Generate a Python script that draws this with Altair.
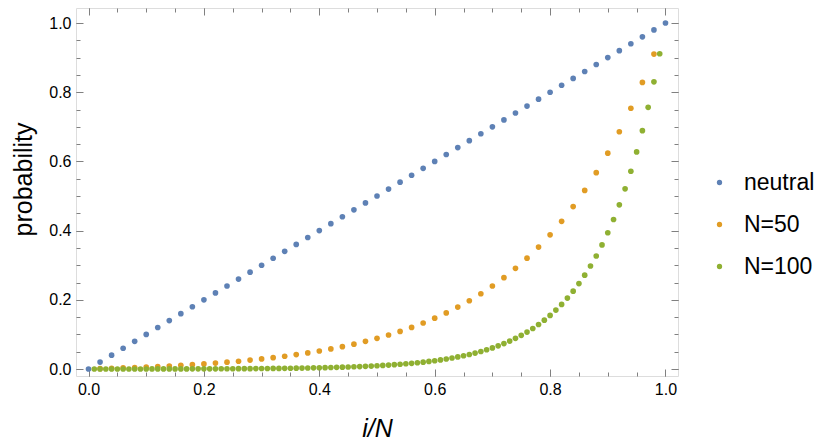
import altair as alt
import pandas as pd

# ---- data ----
neutral_x = [0.00, 0.02, 0.04, 0.06, 0.08, 0.10, 0.12, 0.14, 0.16, 0.18,
             0.20, 0.22, 0.24, 0.26, 0.28, 0.30, 0.32, 0.34, 0.36, 0.38,
             0.40, 0.42, 0.44, 0.46, 0.48, 0.50, 0.52, 0.54, 0.56, 0.58,
             0.60, 0.62, 0.64, 0.66, 0.68, 0.70, 0.72, 0.74, 0.76, 0.78,
             0.80, 0.82, 0.84, 0.86, 0.88, 0.90, 0.92, 0.94, 0.96, 0.98, 1.00]
neutral_y = [0.00, 0.02, 0.04, 0.06, 0.08, 0.10, 0.12, 0.14, 0.16, 0.18,
             0.20, 0.22, 0.24, 0.26, 0.28, 0.30, 0.32, 0.34, 0.36, 0.38,
             0.40, 0.42, 0.44, 0.46, 0.48, 0.50, 0.52, 0.54, 0.56, 0.58,
             0.60, 0.62, 0.64, 0.66, 0.68, 0.70, 0.72, 0.74, 0.76, 0.78,
             0.80, 0.82, 0.84, 0.86, 0.88, 0.90, 0.92, 0.94, 0.96, 0.98, 1.00]

n50_x = [0.02, 0.04, 0.06, 0.08, 0.10, 0.12, 0.14, 0.16, 0.18, 0.20,
         0.22, 0.24, 0.26, 0.28, 0.30, 0.32, 0.34, 0.36, 0.38, 0.40,
         0.42, 0.44, 0.46, 0.48, 0.50, 0.52, 0.54, 0.56, 0.58, 0.60,
         0.62, 0.64, 0.66, 0.68, 0.70, 0.72, 0.74, 0.76, 0.78, 0.80,
         0.82, 0.84, 0.86, 0.88, 0.90, 0.92, 0.94, 0.96, 0.98]
n50_y = [0.0009, 0.0020, 0.0031, 0.0043, 0.0057, 0.0072, 0.0088, 0.0106, 0.0125, 0.0147,
         0.0171, 0.0197, 0.0225, 0.0257, 0.0291, 0.0329, 0.0370, 0.0416, 0.0466, 0.0520,
         0.0581, 0.0647, 0.0719, 0.0799, 0.0886, 0.0982, 0.1087, 0.1203, 0.1330, 0.1469,
         0.1622, 0.1790, 0.1974, 0.2176, 0.2398, 0.2641, 0.2909, 0.3203, 0.3525, 0.3878,
         0.4267, 0.4694, 0.5161, 0.5675, 0.6239, 0.6858, 0.7537, 0.8283, 0.9102]

n100_x = [0.01, 0.02, 0.03, 0.04, 0.05, 0.06, 0.07, 0.08, 0.09, 0.10,
          0.11, 0.12, 0.13, 0.14, 0.15, 0.16, 0.17, 0.18, 0.19, 0.20,
          0.21, 0.22, 0.23, 0.24, 0.25, 0.26, 0.27, 0.28, 0.29, 0.30,
          0.31, 0.32, 0.33, 0.34, 0.35, 0.36, 0.37, 0.38, 0.39, 0.40,
          0.41, 0.42, 0.43, 0.44, 0.45, 0.46, 0.47, 0.48, 0.49, 0.50,
          0.51, 0.52, 0.53, 0.54, 0.55, 0.56, 0.57, 0.58, 0.59, 0.60,
          0.61, 0.62, 0.63, 0.64, 0.65, 0.66, 0.67, 0.68, 0.69, 0.70,
          0.71, 0.72, 0.73, 0.74, 0.75, 0.76, 0.77, 0.78, 0.79, 0.80,
          0.81, 0.82, 0.83, 0.84, 0.85, 0.86, 0.87, 0.88, 0.89, 0.90,
          0.91, 0.92, 0.93, 0.94, 0.95, 0.96, 0.97, 0.98, 0.99]
n100_y = [0.0000, 0.0000, 0.0000, 0.0000, 0.0001, 0.0001, 0.0001, 0.0001, 0.0001, 0.0001,
          0.0002, 0.0002, 0.0002, 0.0002, 0.0003, 0.0003, 0.0003, 0.0004, 0.0004, 0.0005,
          0.0005, 0.0006, 0.0007, 0.0007, 0.0008, 0.0009, 0.0010, 0.0011, 0.0012, 0.0014,
          0.0015, 0.0017, 0.0018, 0.0020, 0.0022, 0.0025, 0.0027, 0.0030, 0.0033, 0.0036,
          0.0040, 0.0044, 0.0048, 0.0053, 0.0058, 0.0064, 0.0071, 0.0078, 0.0085, 0.0094,
          0.0104, 0.0114, 0.0125, 0.0137, 0.0151, 0.0165, 0.0182, 0.0199, 0.0219, 0.0240,
          0.0264, 0.0289, 0.0318, 0.0349, 0.0383, 0.0420, 0.0461, 0.0506, 0.0556, 0.0610,
          0.0670, 0.0735, 0.0807, 0.0886, 0.0973, 0.1068, 0.1172, 0.1286, 0.1412, 0.1550,
          0.1702, 0.1868, 0.2050, 0.2251, 0.2470, 0.2712, 0.2977, 0.3267, 0.3587, 0.3937,
          0.4322, 0.4744, 0.5208, 0.5716, 0.6275, 0.6889, 0.7562, 0.8301, 0.9111]

series_names = ["neutral", "N=50", "N=100"]
series_colors = ["#5E81B5", "#E19C24", "#8FB032"]

major_ticks = [0.0, 0.2, 0.4, 0.6, 0.8, 1.0]
minor_ticks = [0.0, 0.05, 0.1, 0.15, 0.2, 0.25, 0.3, 0.35, 0.4, 0.45, 0.5,
               0.55, 0.6, 0.65, 0.7, 0.75, 0.8, 0.85, 0.9, 0.95, 1.0]

# ---- table ----
df = pd.concat([
    pd.DataFrame({"x": neutral_x, "y": neutral_y, "series": series_names[0], "order": 0}),
    pd.DataFrame({"x": n50_x, "y": n50_y, "series": series_names[1], "order": 1}),
    pd.DataFrame({"x": n100_x, "y": n100_y, "series": series_names[2], "order": 2}),
], ignore_index=True)

W, H = 602, 368
FONT = "Liberation Sans"
FRAME = "#808080"

xscale = alt.Scale(domain=[-0.0217, 1.0217], nice=False, zero=False)
yscale = alt.Scale(domain=[-0.0202, 1.0434], nice=False, zero=False)

points = alt.Chart(df).mark_circle(size=32, opacity=1).encode(
    x=alt.X("x:Q", scale=xscale, axis=alt.Axis(
        orient="bottom", values=major_ticks, format=".1f", ticks=False, tickSize=0,
        domain=False, grid=False, labelFontSize=16, labelPadding=5, labelColor="#000000",
        labelFont=FONT, title="i/N", titleFont=FONT, titleFontSize=25,
        titleFontStyle="italic", titleFontWeight="normal", titleColor="#000000",
        titleX=301, titleY=52, titleBaseline="middle", titleAlign="center")),
    y=alt.Y("y:Q", scale=yscale, axis=alt.Axis(
        orient="left", values=major_ticks, format=".1f", ticks=False, tickSize=0,
        domain=False, grid=False, labelFontSize=16, labelPadding=5, labelColor="#000000",
        labelFont=FONT, title="probability", titleFont=FONT, titleFontSize=25,
        titleFontWeight="normal", titleColor="#000000", titleAngle=270,
        titleX=-53, titleY=171, titleBaseline="middle", titleAlign="center")),
    color=alt.Color("series:N", scale=alt.Scale(domain=series_names, range=series_colors),
                    legend=alt.Legend(title="", orient="none", legendX=632, legendY=163,
                                      labelFont=FONT, labelFontSize=23, labelColor="#000000",
                                      symbolType="circle", symbolSize=28, symbolStrokeWidth=0,
                                      labelOffset=13, rowPadding=18, padding=0)),
    order=alt.Order("order:Q"),
)


def tick_layer(xorient, yorient, vals, size):
    return alt.Chart(df).mark_point(opacity=0).encode(
        x=alt.X("x:Q", scale=xscale, axis=alt.Axis(
            orient=xorient, offset=-H, values=vals, ticks=True, tickSize=size,
            tickColor=FRAME, tickWidth=1, labels=False, domain=False, grid=False, title="")),
        y=alt.Y("y:Q", scale=yscale, axis=alt.Axis(
            orient=yorient, offset=-W, values=vals, ticks=True, tickSize=size,
            tickColor=FRAME, tickWidth=1, labels=False, domain=False, grid=False, title="")),
    )


chart = alt.layer(
    points,
    tick_layer("top", "right", major_ticks, 7),
    tick_layer("top", "right", minor_ticks, 4),
    tick_layer("bottom", "left", major_ticks, 7),
    tick_layer("bottom", "left", minor_ticks, 4),
).resolve_axis(x="independent", y="independent").properties(
    width=W, height=H,
    autosize=alt.AutoSizeParams(type="none"),
    padding={"left": 68, "top": 0, "right": 814 - 68 - W, "bottom": 432 - H},
).configure_view(stroke=FRAME, strokeWidth=1).configure(font=FONT)

chart.save("out.html", embed_options={"renderer": "svg", "actions": False})
